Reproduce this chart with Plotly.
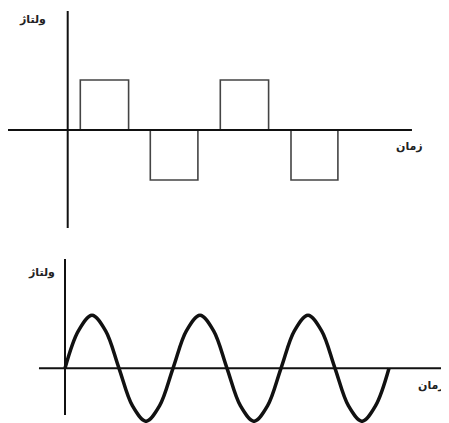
import plotly.graph_objects as go

# square wave: switching times and levels (hv steps)
SQUARE_T = [0, 0.9, 4.35, 5.9, 9.3, 10.9, 14.35, 15.95, 19.3]
SQUARE_V = [0, 1, 0, -1, 0, 1, 0, -1, 0]

# sine wave: samples every 1/8 period, 3 periods
SINE_T = [0, 0.125, 0.25, 0.375, 0.5, 0.625, 0.75, 0.875,
          1, 1.125, 1.25, 1.375, 1.5, 1.625, 1.75, 1.875,
          2, 2.125, 2.25, 2.375, 2.5, 2.625, 2.75, 2.875, 3]
SINE_V = [0, 0.71, 1, 0.71, 0, -0.71, -1, -0.71,
          0, 0.71, 1, 0.71, 0, -0.71, -1, -0.71,
          0, 0.71, 1, 0.71, 0, -0.71, -1, -0.71, 0]

Y_LABEL = "ولتاژ"
X_LABEL = "زمان"

# page body has an 8px margin, so the figure is a bit smaller than the window
W, H = 441, 415

fig = go.Figure()

fig.add_trace(go.Scatter(
    x=SQUARE_T, y=SQUARE_V, mode="lines", line_shape="hv",
    line=dict(color="#444444", width=1.6),
    xaxis="x", yaxis="y", showlegend=False, hoverinfo="skip",
))

fig.add_trace(go.Scatter(
    x=SINE_T, y=SINE_V, mode="lines", line_shape="spline",
    line=dict(color="#111111", width=3.5),
    xaxis="x2", yaxis="y2", showlegend=False, hoverinfo="skip",
))

# axis lines
axis_line = dict(color="#111111", width=2)
fig.add_shape(type="line", xref="x", yref="y", x0=-4.34, x1=24.59, y0=0, y1=0, line=axis_line)
fig.add_shape(type="line", xref="x", yref="y", x0=0, x1=0, y0=-1.96, y1=2.38, line=axis_line)
fig.add_shape(type="line", xref="x2", yref="y2", x0=-0.241, x1=3.56, y0=0, y1=0, line=axis_line)
fig.add_shape(type="line", xref="x2", yref="y2", x0=0, x1=0, y0=-0.881, y1=2.062, line=axis_line)

label_font = dict(family="DejaVu Sans", size=11, color="#222222")
for text, px, py in [(Y_LABEL, 24, 11), (X_LABEL, 401, 138),
                     (Y_LABEL, 33, 264), (X_LABEL, 423, 377)]:
    fig.add_annotation(
        text="<b>" + text + "</b>", x=px / W, y=1 - py / H,
        xref="paper", yref="paper", xanchor="center", yanchor="middle",
        showarrow=False, font=label_font,
    )

hidden = dict(visible=False, showgrid=False, zeroline=False, fixedrange=True)

fig.update_layout(
    width=W,
    height=H,
    margin=dict(l=0, r=0, t=0, b=0),
    plot_bgcolor="white",
    paper_bgcolor="white",
    xaxis=dict(domain=[0, 1], range=[-4.264, 27.236], **hidden),
    yaxis=dict(domain=[1 - 222 / H, 1], range=[-2.0, 2.44], **hidden),
    xaxis2=dict(domain=[0, 1], range=[-0.5278, 3.5556], anchor="y2", **hidden),
    yaxis2=dict(domain=[0, 1 - 232 / H], range=[-1.032, 2.4208], anchor="x2", **hidden),
)

fig.write_html("out.html")
